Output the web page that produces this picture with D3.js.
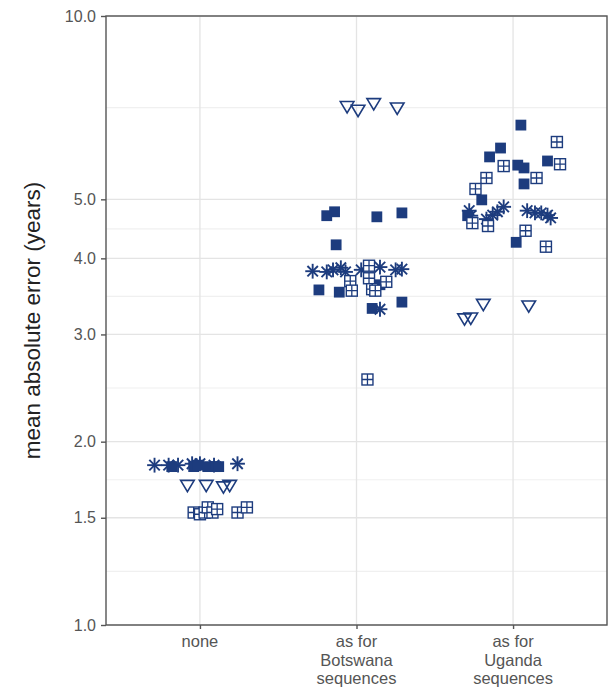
<!DOCTYPE html>
<html>
<head>
<meta charset="utf-8">
<script src="https://cdn.jsdelivr.net/npm/d3@7"></script>
<style>
  body { margin: 0; background: #fff; }
  text { font-family: "Liberation Sans", Arial, sans-serif; }
</style>
</head>
<body>
<div id="chart"></div>
<script>
// categories along x, each one is a line-broken label
const categories = ["none", "as for Botswana sequences", "as for Uganda sequences"];
const categoryLines = [["none"], ["as for", "Botswana", "sequences"], ["as for", "Uganda", "sequences"]];

// y ticks (log scale)
const yTicks = [1, 1.5, 2, 3, 4, 5, 10];

// points: [category index, jitter (in category units), mean absolute error]
const asteriskPts = [
  [0, -0.29, 1.83], [0, -0.20, 1.83], [0, -0.14, 1.83], [0, -0.05, 1.84], [0, 0.0, 1.84], [0, 0.09, 1.83], [0, 0.24, 1.84],
  [1, -0.28, 3.81], [1, -0.19, 3.80], [1, -0.15, 3.83], [1, -0.10, 3.86], [1, -0.07, 3.80], [1, 0.03, 3.83],
  [1, 0.15, 3.87], [1, 0.25, 3.83], [1, 0.29, 3.84], [1, 0.15, 3.30],
  [2, -0.28, 4.79], [2, -0.27, 4.70], [2, -0.17, 4.64], [2, -0.13, 4.71], [2, -0.10, 4.77], [2, -0.06, 4.86],
  [2, 0.09, 4.79], [2, 0.14, 4.75], [2, 0.18, 4.75], [2, 0.22, 4.71], [2, 0.24, 4.66]
];
const filledPts = [
  [0, -0.18, 1.82], [0, -0.04, 1.82], [0, -0.01, 1.83], [0, 0.05, 1.82], [0, 0.10, 1.82], [0, 0.12, 1.82],
  [1, -0.19, 4.70], [1, -0.14, 4.77], [1, 0.13, 4.68], [1, 0.29, 4.75], [1, -0.13, 4.21], [1, -0.24, 3.55],
  [1, -0.11, 3.52], [1, 0.15, 3.62], [1, 0.10, 3.31], [1, 0.29, 3.39], [1, 0.11, 3.55],
  [2, 0.05, 6.62], [2, -0.08, 6.07], [2, -0.15, 5.87], [2, 0.03, 5.69], [2, 0.07, 5.63], [2, 0.22, 5.78],
  [2, 0.07, 5.30], [2, -0.20, 4.99], [2, -0.29, 4.70], [2, 0.02, 4.25]
];
const trianglePts = [
  [0, -0.08, 1.70], [0, 0.04, 1.70], [0, 0.15, 1.69], [0, 0.19, 1.70],
  [1, -0.06, 7.12], [1, 0.01, 7.02], [1, 0.11, 7.20], [1, 0.26, 7.08],
  [2, -0.31, 3.19], [2, -0.27, 3.20], [2, -0.19, 3.37], [2, 0.10, 3.35]
];
const boxedPts = [
  [0, -0.04, 1.53], [0, 0.0, 1.52], [0, 0.03, 1.53], [0, 0.05, 1.56], [0, 0.08, 1.53], [0, 0.11, 1.55],
  [0, 0.24, 1.53], [0, 0.30, 1.56],
  [1, 0.08, 3.89], [1, -0.04, 3.67], [1, -0.03, 3.54], [1, 0.08, 3.71], [1, 0.19, 3.66], [1, 0.10, 3.56],
  [1, 0.12, 3.54], [1, 0.07, 2.53],
  [2, 0.28, 6.21], [2, 0.30, 5.71], [2, -0.06, 5.67], [2, 0.15, 5.42], [2, -0.17, 5.42], [2, -0.24, 5.20],
  [2, -0.26, 4.57], [2, -0.16, 4.52], [2, 0.08, 4.44], [2, 0.21, 4.18]
];

const width = 611, height = 689;
const margin = {top: 16, right: 4, bottom: 64, left: 106};
const col = "#1d3c7e";

const svg = d3.select("#chart").append("svg")
  .attr("width", width)
  .attr("height", height);

const x = d3.scaleLinear()
  .domain([0.4, categories.length + 0.6])
  .range([margin.left, width - margin.right]);

const y = d3.scaleLog()
  .domain([1, 10])
  .range([height - margin.bottom, margin.top]);

const grid = svg.append("g");

// minor gridlines halfway (in log space) between major breaks, like ggplot
const minor = d3.pairs(yTicks).map(p => Math.sqrt(p[0] * p[1]));
grid.selectAll(".minor").data(minor).join("line")
  .attr("x1", x.range()[0]).attr("x2", x.range()[1])
  .attr("y1", d => y(d)).attr("y2", d => y(d))
  .attr("stroke", "#f0f0f0").attr("stroke-width", 1.1);

grid.selectAll(".major").data(yTicks).join("line")
  .attr("x1", x.range()[0]).attr("x2", x.range()[1])
  .attr("y1", d => y(d)).attr("y2", d => y(d))
  .attr("stroke", "#e4e4e4").attr("stroke-width", 1.3);

grid.selectAll(".vmajor").data(categories).join("line")
  .attr("x1", (d, i) => x(i + 1)).attr("x2", (d, i) => x(i + 1))
  .attr("y1", y.range()[0]).attr("y2", y.range()[1])
  .attr("stroke", "#e4e4e4").attr("stroke-width", 1.3);

// marker glyphs
const shapes = {
  asterisk: g => {
    const r = 7.4;
    for (let k = 0; k < 4; k++) {
      const a = k * Math.PI / 4;
      g.append("line")
        .attr("x1", -r * Math.cos(a)).attr("y1", -r * Math.sin(a))
        .attr("x2", r * Math.cos(a)).attr("y2", r * Math.sin(a))
        .attr("stroke", col).attr("stroke-width", 1.9);
    }
  },
  filled: g => {
    g.append("rect").attr("x", -5.4).attr("y", -5.4).attr("width", 10.8).attr("height", 10.8)
      .attr("fill", col);
  },
  triangle: g => {
    g.append("path").attr("d", "M-6.8,-4.3L6.8,-4.3L0,7Z")
      .attr("fill", "none").attr("stroke", col).attr("stroke-width", 1.6);
  },
  boxed: g => {
    g.append("rect").attr("x", -5.5).attr("y", -5.5).attr("width", 11).attr("height", 11)
      .attr("fill", "#fff").attr("stroke", col).attr("stroke-width", 1.4);
    g.append("path").attr("d", "M0,-5.5V5.5M-5.5,0H5.5")
      .attr("stroke", col).attr("stroke-width", 1.3);
  }
};

const layers = [
  ["asterisk", asteriskPts],
  ["filled", filledPts],
  ["triangle", trianglePts],
  ["boxed", boxedPts]
];

layers.forEach(([name, pts]) => {
  svg.append("g").attr("class", name)
    .selectAll("g").data(pts).join("g")
    .attr("transform", d => `translate(${x(d[0] + 1 + d[1])},${y(d[2])})`)
    .each(function() { shapes[name](d3.select(this)); });
});

// panel border
svg.append("rect")
  .attr("x", x.range()[0]).attr("y", y.range()[1])
  .attr("width", x.range()[1] - x.range()[0])
  .attr("height", y.range()[0] - y.range()[1])
  .attr("fill", "none").attr("stroke", "#555").attr("stroke-width", 1.4);

// y axis
const yAxis = svg.append("g")
  .attr("transform", `translate(${margin.left},0)`)
  .call(d3.axisLeft(y).tickValues(yTicks).tickFormat(d3.format(".1f")).tickSize(5).tickPadding(5));
yAxis.select(".domain").remove();
yAxis.selectAll(".tick line").attr("stroke", "#555").attr("stroke-width", 1.4);
yAxis.selectAll("text").attr("fill", "#555").style("font-size", "16px")
  .style("font-family", "'Liberation Sans', Arial, sans-serif");

// x axis
const xAxis = svg.append("g")
  .attr("transform", `translate(0,${height - margin.bottom})`)
  .call(d3.axisBottom(x).tickValues(d3.range(1, categories.length + 1)).tickFormat("").tickSize(4));
xAxis.select(".domain").remove();
xAxis.selectAll(".tick line").attr("stroke", "#555").attr("stroke-width", 1.4);

const xl = svg.append("g").selectAll("text").data(categoryLines).join("text")
  .attr("x", (d, i) => x(i + 1))
  .attr("y", height - margin.bottom + 22)
  .attr("text-anchor", "middle")
  .attr("fill", "#555")
  .style("font-size", "16.5px");
xl.selectAll("tspan").data((d, i) => d.map(t => [t, i])).join("tspan")
  .attr("x", d => x(d[1] + 1))
  .attr("dy", (d, k) => k === 0 ? 0 : 18.5)
  .text(d => d[0]);

// y title
svg.append("text")
  .attr("transform", `translate(40,${(y.range()[0] + y.range()[1]) / 2}) rotate(-90)`)
  .attr("text-anchor", "middle")
  .attr("fill", "#222")
  .style("font-size", "22.5px")
  .text("mean absolute error (years)");
</script>
</body>
</html>
